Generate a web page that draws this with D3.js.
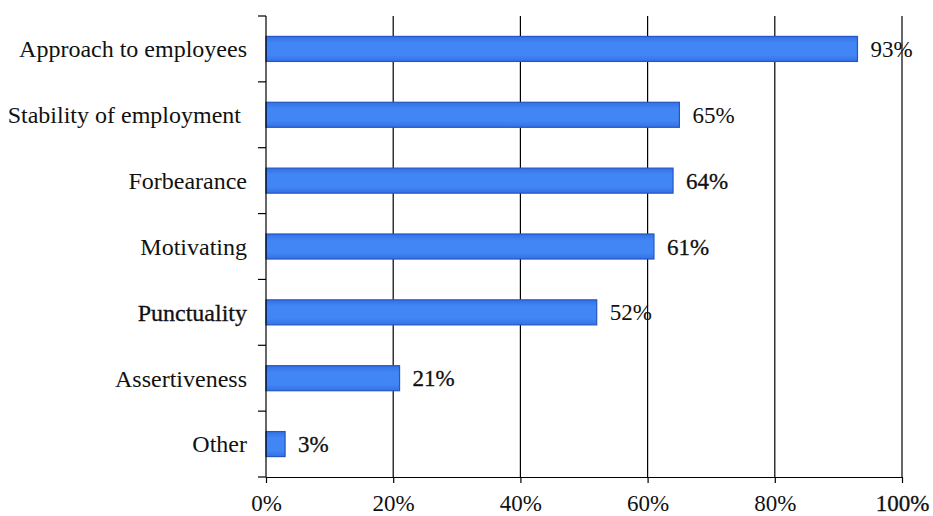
<!DOCTYPE html>
<html>
<head>
<meta charset="utf-8">
<script src="https://cdn.jsdelivr.net/npm/d3@7"></script>
<style>
  html, body { margin: 0; padding: 0; background: #fff; }
  svg { display: block; }
  text { font-family: "Liberation Serif", "Times New Roman", serif; fill: #111; }
</style>
</head>
<body>
<svg id="chart" width="933" height="516"></svg>
<script>
// Share of respondents naming each quality
const categories = ["Approach to employees", "Stability of employment ", "Forbearance", "Motivating", "Punctuality", "Assertiveness", "Other"];
const values = [93, 65, 64, 61, 52, 21, 3];
const xTicks = [0, 20, 40, 60, 80, 100];

const margin = { top: 16, right: 31, bottom: 39, left: 266 };
const width = 933, height = 516;
const fontSize = 23;
const catFontSize = 24;
const svg = d3.select("#chart");

const x = d3.scaleLinear().domain([0, 100]).range([margin.left, width - margin.right]);
const y = d3.scaleBand().domain(categories).range([margin.top, height - margin.bottom]).paddingInner(0.62).paddingOuter(0.31);

// Bar gradient: slightly darker along top and bottom edges
const defs = svg.append("defs");
const grad = defs.append("linearGradient").attr("id", "barFill").attr("x1", 0).attr("y1", 0).attr("x2", 0).attr("y2", 1);
grad.append("stop").attr("offset", "0%").attr("stop-color", "#3470e6");
grad.append("stop").attr("offset", "25%").attr("stop-color", "#4285f4");
grad.append("stop").attr("offset", "75%").attr("stop-color", "#4285f4");
grad.append("stop").attr("offset", "100%").attr("stop-color", "#3470e6");

// Vertical gridlines
svg.append("g")
  .selectAll("line")
  .data(xTicks.filter(d => d > 0))
  .join("line")
  .attr("x1", d => x(d)).attr("x2", d => x(d))
  .attr("y1", margin.top).attr("y2", height - margin.bottom)
  .attr("stroke", "#000").attr("stroke-width", 1.2);

// Bars
svg.append("g")
  .selectAll("rect")
  .data(values)
  .join("rect")
  .attr("x", x(0))
  .attr("y", (d, i) => y(categories[i]))
  .attr("width", d => x(d) - x(0))
  .attr("height", y.bandwidth())
  .attr("fill", "url(#barFill)")
  .attr("stroke", "#2456c4")
  .attr("stroke-width", 1.2);

// Slightly heavier text for some labels
const heavy = sel => sel.attr("stroke", "#111").attr("stroke-width", 0.3);

// Value labels
const heavyValues = new Set([64, 61, 21, 3]);
svg.append("g")
  .selectAll("text")
  .data(values)
  .join("text")
  .attr("x", d => x(d) + 13)
  .attr("y", (d, i) => y(categories[i]) + y.bandwidth() / 2)
  .attr("dy", "0.35em")
  .attr("font-size", fontSize)
  .text(d => d + "%")
  .filter(d => heavyValues.has(d))
  .call(heavy);

// Y axis with ticks between categories
const yAxisG = svg.append("g");
yAxisG.append("line")
  .attr("x1", x(0)).attr("x2", x(0))
  .attr("y1", margin.top).attr("y2", height - margin.bottom)
  .attr("stroke", "#000").attr("stroke-width", 1.2);
const bounds = d3.range(categories.length + 1).map(i => margin.top + i * (height - margin.top - margin.bottom) / categories.length);
yAxisG.selectAll("line.tick")
  .data(bounds)
  .join("line")
  .attr("class", "tick")
  .attr("x1", x(0) - 8).attr("x2", x(0))
  .attr("y1", d => d).attr("y2", d => d)
  .attr("stroke", "#000").attr("stroke-width", 1.2);
yAxisG.selectAll("text")
  .data(categories)
  .join("text")
  .attr("x", x(0) - 19)
  .attr("y", d => y(d) + y.bandwidth() / 2)
  .attr("dy", "0.35em")
  .attr("text-anchor", "end")
  .attr("font-size", catFontSize)
  .style("white-space", "pre")
  .text(d => d)
  .filter(d => d === "Punctuality")
  .call(heavy);

// X axis
const xAxis = d3.axisBottom(x).tickValues(xTicks).tickFormat(d => d + "%").tickSize(6).tickSizeOuter(0);
const xg = svg.append("g").attr("transform", `translate(0,${height - margin.bottom})`).call(xAxis);
xg.select(".domain").attr("stroke", "#000").attr("stroke-width", 1.2);
xg.selectAll(".tick line").attr("stroke", "#000").attr("stroke-width", 1.2);
xg.selectAll(".tick text")
  .attr("font-size", fontSize)
  .attr("font-family", "Liberation Serif, Times New Roman, serif")
  .attr("fill", "#111")
  .attr("dy", 25)
  .filter(d => d === 100)
  .call(heavy);
</script>
</body>
</html>
